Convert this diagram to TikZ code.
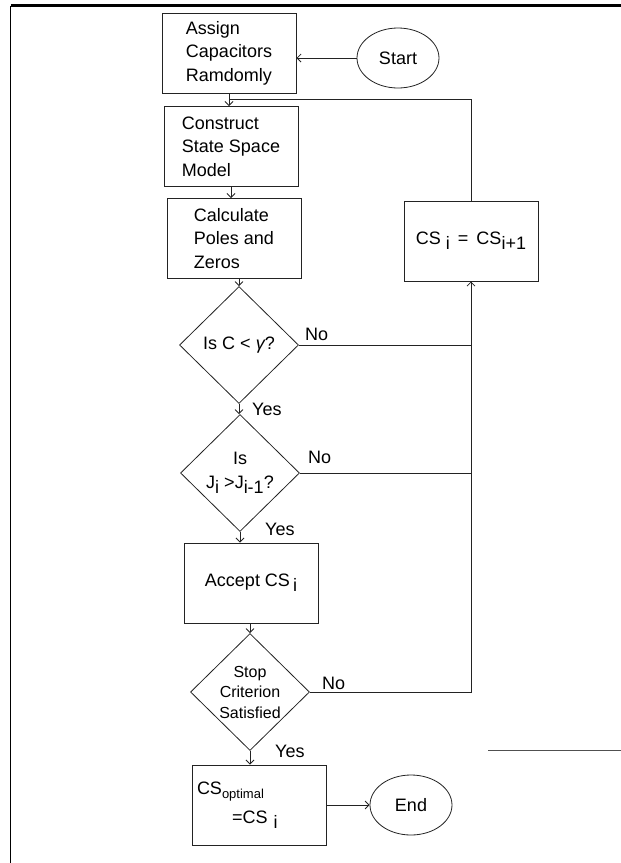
\documentclass[tikz,border=0pt]{standalone}
\usepackage{fontspec}
\setmainfont{Liberation Sans}
\usetikzlibrary{shapes.geometric,arrows.meta,positioning}
\definecolor{lineclr}{RGB}{35,35,35}
\definecolor{frameclr}{RGB}{0,0,0}
\definecolor{glitchclr}{RGB}{80,80,80}
\newcommand{\flowfont}{\fontsize{18}{23.5}\selectfont}
\newcommand{\smallflow}{\fontsize{16}{20.5}\selectfont}
\newcommand{\subtxt}[1]{\raisebox{-5pt}{#1}}
\newcommand{\tinysub}[1]{\raisebox{-4pt}{\fontsize{13}{13}\selectfont #1}}
\tikzset{
  procbox/.style={rectangle,draw=lineclr,line width=1pt,
    minimum width=134pt,minimum height=80pt,
    font=\flowfont,align=left,inner sep=4pt},
  decbox/.style={diamond,draw=lineclr,line width=0.8pt,
    minimum width=119pt,minimum height=117pt,
    font=\flowfont,align=center,inner sep=-3pt},
  term/.style={ellipse,draw=lineclr,line width=0.8pt,
    minimum width=82pt,minimum height=60pt,font=\flowfont},
  arr/.style={-{Straight Barb[length=4pt,width=8pt]},line width=0.8pt,color=lineclr},
  lne/.style={line width=0.8pt,color=lineclr},
  lbl/.style={font=\flowfont,inner sep=0pt,anchor=base west},
}
\begin{document}
\begin{tikzpicture}[x=1pt,y=-1pt]
  \useasboundingbox (0,0) rectangle (621,863);
  % page frame
  \draw[frameclr,line width=2.4pt] (10.8,5.5) -- (621,5.5);
  \draw[frameclr,line width=1.2pt] (10.8,5.5) -- (10.8,863);

  \node[procbox] (assign) at (229,53)    {Assign\\Capacitors\\Ramdomly};
  \node[term]    (start)  at (398,58)    {Start};
  \node[procbox] (model)  at (231,146.5) {Construct\\State Space\\Model};
  \node[procbox] (poles)  at (234,238.5) {Calculate\\Poles and\\Zeros};
  \node[decbox]  (chkc)   at (239,345)   {Is C < {\itshape γ}?};
  \node[decbox]  (chkj)   at (240,473)   {Is\\J\subtxt{i} >J\subtxt{i-1}?};
  \node[procbox,align=center] (accept) at (251,583) {Accept CS\,\subtxt{i}};
  \node[decbox,font=\smallflow] (stop) at (250,692) {Stop\\Criterion\\Satisfied};
  \node[procbox,text width=124pt,inner xsep=5pt] (best) at (259,805)
    {CS\tinysub{optimal}\\[5pt]\hspace*{35pt}=CS\subtxt{ i}};
  \node[term]    (finish) at (411,805)   {End};
  \node[procbox,align=center] (update) at (471,241) {CS \subtxt{i} \,=\, CS\subtxt{i+1}};

  % main flow
  \draw[arr] (start) -- (assign.east |- start);
  \draw[arr] (assign.south) -- (assign.south |- model.north);
  \draw[arr] (model.south) -- (model.south |- poles.north);
  \draw[arr] (chkc.north |- poles.south) -- (chkc.north);
  \draw[arr] (chkc.south) -- (chkc.south |- chkj.north);
  \draw[arr] (chkj.south) -- (chkj.south |- accept.north);
  \draw[arr] (stop.north |- accept.south) -- (stop.north);
  \draw[arr] (stop.south) -- (stop.south |- best.north);
  \draw[arr] (best) -- (finish);

  % the No branches
  \draw[lne] (chkc.east) -- (chkc.east -| update.south);
  \draw[lne] (chkj.east) -- (chkj.east -| update.south);
  \draw[arr] (stop.east) -| (update.south);
  \coordinate (join) at (229,99);
  \draw[lne] (update.north) |- (join);

  \node[lbl] (no1)  at (305,340) {No};
  \node[lbl] (no2)  at (308,463) {No};
  \node[lbl] (no3)  at (322,689) {No};
  \node[lbl] (yes1) at (252,415) {Yes};
  \node[lbl] (yes2) at (265,535) {Yes};
  \node[lbl] (yes3) at (275,757) {Yes};

  \draw[glitchclr,line width=1pt] (488,750) -- (621,750);
\end{tikzpicture}
\end{document}
